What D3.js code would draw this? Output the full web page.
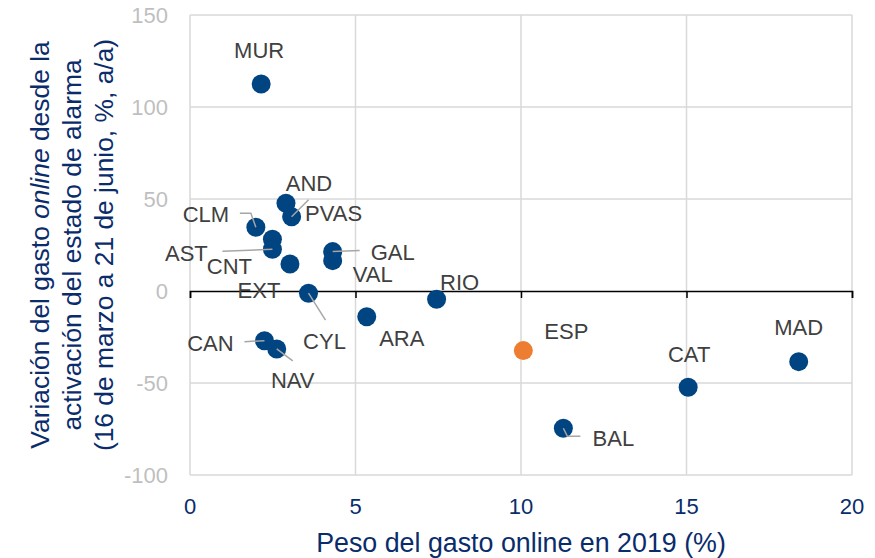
<!DOCTYPE html>
<html>
<head>
<meta charset="utf-8">
<script src="https://cdn.jsdelivr.net/npm/d3@7"></script>
<style>
  body { margin: 0; background: #fff; }
  svg { display: block; font-family: "Liberation Sans", Arial, sans-serif; }
</style>
</head>
<body>
<div id="chart"></div>
<script>
// data
const regions = ["MUR", "AND", "PVAS", "CLM", "CNT", "AST", "EXT", "GAL", "VAL", "CYL",
                 "RIO", "ARA", "CAN", "NAV", "ESP", "BAL", "CAT", "MAD"];
const weight2019 = [2.15, 2.90, 3.07, 1.99, 2.49, 2.49, 3.02, 4.31, 4.31, 3.58,
                    7.45, 5.34, 2.25, 2.62, 10.07, 11.28, 15.05, 18.39];
const growth = [112.5, 47.7, 40.4, 34.6, 28.1, 22.7, 14.7, 21.4, 16.5, -1.2,
                -4.5, -14.0, -27.0, -31.5, -32.4, -74.6, -52.3, -38.4];
const xTicks = [0, 5, 10, 15, 20];
const yTicks = [-100, -50, 0, 50, 100, 150];

// label placement (pixel offsets from the point) and leader lines
const labelLayout = {
  MUR: { dx: -2, dy: -34 },
  AND: { dx: 23, dy: -20 },
  PVAS: { dx: 42, dy: -4, leader: [[17, -17], [0, 0]] },
  CLM: { dx: -50, dy: -13, leader: [[-16, -14], [-5, -14], [0, 0]] },
  CNT: { dx: -43, dy: 27 },
  AST: { dx: -86, dy: 4, leader: [[-50, 2], [0, 0]] },
  EXT: { dx: -31, dy: 26 },
  GAL: { dx: 60, dy: 0, leader: [[27, -1], [0, 0]] },
  VAL: { dx: 40, dy: 13 },
  CYL: { dx: 16, dy: 48, leader: [[0, 0], [17, 27]] },
  RIO: { dx: 23, dy: -17 },
  ARA: { dx: 35, dy: 21 },
  CAN: { dx: -54, dy: 2, leader: [[-20, 1], [0, 0]] },
  NAV: { dx: 16, dy: 31, leader: [[0, 0], [16, 12]] },
  ESP: { dx: 43, dy: -20 },
  BAL: { dx: 50, dy: 10, leader: [[0, 0], [4, 8], [17, 8]] },
  CAT: { dx: 1, dy: -33 },
  MAD: { dx: 0, dy: -35 }
};

const width = 875, height = 558;
const margin = { top: 15, right: 23, bottom: 83, left: 190 };

const svg = d3.select("#chart").append("svg")
  .attr("width", width)
  .attr("height", height);

const x = d3.scaleLinear().domain([0, 20]).range([margin.left, width - margin.right]);
const y = d3.scaleLinear().domain([-100, 150]).range([height - margin.bottom, margin.top]);

const data = regions.map((r, i) => ({ name: r, x: weight2019[i], y: growth[i] }));

// grid
svg.append("g").selectAll("line.h")
  .data(yTicks.filter(t => t !== 0))
  .enter().append("line")
  .attr("x1", x(0)).attr("x2", x(20))
  .attr("y1", d => y(d)).attr("y2", d => y(d))
  .attr("stroke", "#d9d9d9").attr("stroke-width", 1.5);

svg.append("g").selectAll("line.v")
  .data(xTicks)
  .enter().append("line")
  .attr("x1", d => x(d)).attr("x2", d => x(d))
  .attr("y1", y(150)).attr("y2", y(-100))
  .attr("stroke", "#d9d9d9").attr("stroke-width", 1.5);

// x axis on y = 0
const xAxis = d3.axisBottom(x).tickValues(xTicks).tickSize(7).tickFormat("");
const gx = svg.append("g")
  .attr("transform", `translate(0,${y(0)})`)
  .call(xAxis);
gx.select(".domain").attr("stroke", "#000").attr("stroke-width", 1.5);
gx.selectAll(".tick line").attr("stroke", "#000").attr("stroke-width", 1.5);

// tick labels
svg.append("g").selectAll("text")
  .data(xTicks)
  .enter().append("text")
  .attr("x", d => x(d))
  .attr("y", height - margin.bottom + 39)
  .attr("text-anchor", "middle")
  .attr("font-size", 22)
  .attr("fill", "#0a2c6b")
  .text(d => d);

svg.append("g").selectAll("text")
  .data(yTicks)
  .enter().append("text")
  .attr("x", 168)
  .attr("y", d => y(d) + 7.5)
  .attr("text-anchor", "end")
  .attr("font-size", 22)
  .attr("fill", "#bfbfbf")
  .text(d => d);

// points
svg.append("g").selectAll("circle")
  .data(data)
  .enter().append("circle")
  .attr("cx", d => x(d.x))
  .attr("cy", d => y(d.y))
  .attr("r", 9.5)
  .attr("fill", d => d.name === "ESP" ? "#ed7d31" : "#004481");

// leader lines
const line = d3.line();
svg.append("g").selectAll("path")
  .data(data.filter(d => labelLayout[d.name].leader))
  .enter().append("path")
  .attr("d", d => line(labelLayout[d.name].leader.map(p => [x(d.x) + p[0], y(d.y) + p[1]])))
  .attr("fill", "none")
  .attr("stroke", "#a6a6a6")
  .attr("stroke-width", 1.5);

// point labels
svg.append("g").selectAll("text")
  .data(data)
  .enter().append("text")
  .attr("x", d => x(d.x) + labelLayout[d.name].dx)
  .attr("y", d => y(d.y) + labelLayout[d.name].dy + 8)
  .attr("text-anchor", "middle")
  .attr("font-size", 22)
  .attr("fill", "#404040")
  .text(d => d.name);

// axis titles
svg.append("text")
  .attr("x", (x(0) + x(20)) / 2)
  .attr("y", 552)
  .attr("text-anchor", "middle")
  .attr("font-size", 26.8)
  .attr("fill", "#0a2c6b")
  .text("Peso del gasto online en 2019 (%)");

const yTitle = svg.append("text")
  .attr("transform", "translate(0,245) rotate(-90)")
  .attr("text-anchor", "middle")
  .attr("font-size", 26.4)
  .attr("fill", "#0a2c6b");
const l1 = yTitle.append("tspan").attr("x", 0).attr("y", 49);
l1.append("tspan").text("Variación del gasto ");
l1.append("tspan").attr("font-style", "italic").text("online");
l1.append("tspan").text(" desde la");
yTitle.append("tspan").attr("x", 0).attr("y", 81).text("activación del estado de alarma");
yTitle.append("tspan").attr("x", 0).attr("y", 113).text("(16 de marzo a 21 de junio, %, a/a)");
</script>
</body>
</html>
